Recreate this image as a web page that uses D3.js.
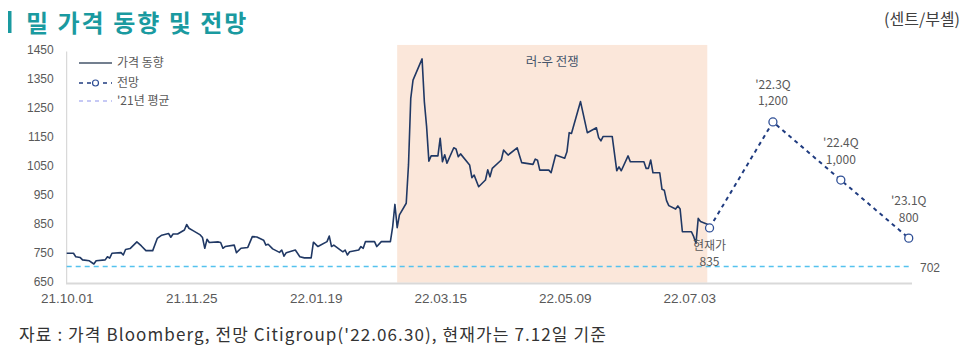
<!DOCTYPE html>
<html>
<head>
<meta charset="utf-8">
<script src="https://cdn.jsdelivr.net/npm/d3@7"></script>
<style>
  body { margin: 0; background: #fff; }
  svg text { font-family: "Liberation Sans", Arial, sans-serif; }
  .kr { font-family: "Noto Sans CJK KR", "Noto Sans", sans-serif; }
</style>
</head>
<body>
<div id="chart"></div>
<script>
// 밀 가격 (센트/부셸)
const priceDates = ["2021-10-01","2021-10-04","2021-10-05","2021-10-07","2021-10-08","2021-10-11","2021-10-13","2021-10-14","2021-10-18","2021-10-19","2021-10-20","2021-10-21","2021-10-25","2021-10-26","2021-10-27","2021-10-29",
  "2021-11-01","2021-11-03","2021-11-05","2021-11-08","2021-11-10","2021-11-12","2021-11-15","2021-11-16","2021-11-17","2021-11-19","2021-11-22","2021-11-23","2021-11-24","2021-11-26","2021-11-29","2021-11-30",
  "2021-12-01","2021-12-02","2021-12-03","2021-12-07","2021-12-08","2021-12-09","2021-12-10","2021-12-14","2021-12-15","2021-12-17","2021-12-20","2021-12-22","2021-12-24","2021-12-27","2021-12-28","2021-12-29","2021-12-31",
  "2022-01-03","2022-01-04","2022-01-05","2022-01-06","2022-01-10","2022-01-12","2022-01-14","2022-01-17","2022-01-18","2022-01-20","2022-01-24","2022-01-25","2022-01-26","2022-01-27","2022-01-31",
  "2022-02-01","2022-02-02","2022-02-03","2022-02-07","2022-02-08","2022-02-09","2022-02-10","2022-02-14","2022-02-15","2022-02-17","2022-02-21","2022-02-22","2022-02-23","2022-02-24","2022-02-25","2022-02-28",
  "2022-03-01","2022-03-02","2022-03-03","2022-03-07","2022-03-08","2022-03-09","2022-03-10","2022-03-11","2022-03-14","2022-03-15","2022-03-16","2022-03-17","2022-03-18","2022-03-21","2022-03-22","2022-03-23","2022-03-24","2022-03-28","2022-03-29","2022-03-30",
  "2022-04-01","2022-04-04","2022-04-05","2022-04-06","2022-04-07","2022-04-11","2022-04-12","2022-04-14","2022-04-18","2022-04-19","2022-04-20","2022-04-25","2022-04-26","2022-04-27","2022-04-28",
  "2022-05-02","2022-05-03","2022-05-05","2022-05-09","2022-05-10","2022-05-11","2022-05-12","2022-05-16","2022-05-19","2022-05-23","2022-05-24","2022-05-25","2022-05-26","2022-05-30",
  "2022-06-01","2022-06-02","2022-06-03","2022-06-06","2022-06-07","2022-06-13","2022-06-14","2022-06-15","2022-06-16","2022-06-17","2022-06-20","2022-06-21","2022-06-22","2022-06-23","2022-06-24","2022-06-27","2022-06-28","2022-06-29","2022-06-30",
  "2022-07-04","2022-07-05","2022-07-06","2022-07-07","2022-07-08","2022-07-11","2022-07-12"];
const priceValues = [748,748,736,733,725,722,711,722,725,736,731,748,750,742,761,764,
  787,773,757,757,799,810,816,803,814,814,828,847,834,825,811,802,
  765,796,785,787,785,765,771,776,750,765,768,805,804,793,776,779,763,
  751,759,738,750,759,736,732,732,786,771,788,807,771,776,753,
  759,742,753,759,771,765,788,788,771,788,788,839,916,836,880,920,
  1052,1281,1344,1417,1270,1184,1065,1083,1083,1144,1063,1087,1058,1111,1107,1080,1090,1052,1008,1017,
  977,1000,1035,1011,1040,1069,1103,1086,1111,1085,1060,1054,1072,1068,1034,
  1034,1025,1086,1075,1097,1163,1160,1270,1163,1180,1146,1135,1150,1150,
  1032,1045,1032,1083,1063,1063,1040,1040,1069,1025,1025,968,965,929,912,900,911,900,822,
  822,805,782,868,857,848,835];

// 전망 (Citigroup)
const fcDates = ["2022-07-12","2022-08-09","2022-09-08","2022-10-08"];
const fcValues = [835,1200,1000,800];
const fcNames = ["현재가","'22.3Q","'22.4Q","'23.1Q"];

const avg2021 = 702;
const warPeriod = ["2022-02-24","2022-07-11"];
const xTicks = ["2021-10-01","2021-11-25","2022-01-19","2022-03-15","2022-05-09","2022-07-03"];
const yTicks = [650,750,850,950,1050,1150,1250,1350,1450];

const W = 966, H = 351;
const parse = d3.timeParse("%Y-%m-%d");
const price = priceDates.map((d, i) => ({date: parse(d), value: priceValues[i]}));
const forecast = fcDates.map((d, i) => ({date: parse(d), value: fcValues[i], name: fcNames[i]}));

const svg = d3.select("#chart").append("svg")
    .attr("width", W)
    .attr("height", H);

const x = d3.scaleTime()
    .domain([parse("2021-10-01"), parse("2022-10-09")])
    .range([66.7, 911]);
const y = d3.scaleLinear()
    .domain([650, 1450])
    .range([281.7, 49.3]);

// 러-우 전쟁 음영
svg.append("rect")
    .attr("x", x(parse(warPeriod[0])))
    .attr("y", y(1465))
    .attr("width", x(parse(warPeriod[1])) - x(parse(warPeriod[0])))
    .attr("height", y(650) - y(1465) + 1)
    .style("fill", "#fbe7da");
svg.append("text").attr("class", "kr")
    .attr("x", (x(parse(warPeriod[0])) + x(parse(warPeriod[1]))) / 2)
    .attr("y", 66)
    .attr("text-anchor", "middle")
    .style("font-size", "12.5px")
    .style("fill", "#44546a")
    .text("러-우 전쟁");

// 축
const yAxis = svg.append("g")
    .attr("transform", "translate(66.7,0)")
    .call(d3.axisLeft(y).tickValues(yTicks).tickSize(0).tickPadding(13).tickFormat(d3.format("d")));
yAxis.select(".domain").remove();
yAxis.selectAll("text").style("font-size", "12px").style("fill", "#595959");
svg.append("line")
    .attr("x1", 66.7).attr("x2", 66.7)
    .attr("y1", 51.5).attr("y2", 283)
    .style("stroke", "#d0d0d0").style("stroke-width", 1);

const xAxis = svg.append("g")
    .attr("transform", "translate(0,283)")
    .call(d3.axisBottom(x).tickValues(xTicks.map(parse)).tickSize(0).tickPadding(10)
        .tickFormat(d3.timeFormat("%y.%m.%d")));
xAxis.select(".domain").remove();
xAxis.selectAll("text")
    .style("font-family", "'Liberation Sans Narrow', 'Arial Narrow', sans-serif")
    .style("font-size", "13.5px").style("fill", "#595959");
svg.append("line")
    .attr("x1", 66).attr("x2", 912)
    .attr("y1", 283.5).attr("y2", 283.5)
    .style("stroke", "#d9d9d9").style("stroke-width", 2);

// '21년 평균
svg.append("line")
    .attr("x1", 66.7).attr("x2", x(parse("2022-10-08")))
    .attr("y1", y(avg2021)).attr("y2", y(avg2021))
    .style("stroke", "#55c2ee").style("stroke-width", 1.5)
    .style("stroke-dasharray", "5,4");
svg.append("text")
    .attr("x", 920).attr("y", y(avg2021) + 5)
    .style("font-size", "12px").style("fill", "#595959")
    .text(avg2021);

// 가격 동향
const line = d3.line().x(d => x(d.date)).y(d => y(d.value));
svg.append("path")
    .datum(price)
    .attr("d", line)
    .style("fill", "none")
    .style("stroke", "#203864")
    .style("stroke-width", 1.6)
    .style("stroke-linejoin", "round");

// 전망
svg.append("path")
    .datum(forecast)
    .attr("d", line)
    .style("fill", "none")
    .style("stroke", "#203c80")
    .style("stroke-width", 2)
    .style("stroke-dasharray", "4,4");
svg.selectAll(".fc").data(forecast).enter().append("circle")
    .attr("class", "fc")
    .attr("cx", d => x(d.date))
    .attr("cy", d => y(d.value))
    .attr("r", 4)
    .style("fill", "#fff")
    .style("stroke", "#2f4f96")
    .style("stroke-width", 1.3);

// 라벨
const fmt = d3.format(",");
forecast.forEach((d, i) => {
    const cx = x(d.date), cy = y(d.value);
    const top = i === 0 ? cy + 22 : cy - 33;
    svg.append("text").attr("class", "kr")
        .attr("x", cx).attr("y", top)
        .attr("text-anchor", "middle")
        .style("font-size", "12px").style("fill", "#595959")
        .text(d.name);
    svg.append("text").attr("class", "kr")
        .attr("x", cx).attr("y", top + 16.5)
        .attr("text-anchor", "middle")
        .style("font-size", "12px").style("fill", "#595959")
        .text(fmt(d.value));
});

// 범례
const legend = svg.append("g").attr("transform", "translate(79,0)");
legend.append("line").attr("x1", 0).attr("x2", 33).attr("y1", 63).attr("y2", 63)
    .style("stroke", "#44546a").style("stroke-width", 1.6);
legend.append("line").attr("x1", 0).attr("x2", 33).attr("y1", 83).attr("y2", 83)
    .style("stroke", "#203c80").style("stroke-width", 1.5).style("stroke-dasharray", "4,4");
legend.append("circle").attr("cx", 16.5).attr("cy", 83).attr("r", 3)
    .style("fill", "#fff").style("stroke", "#2f4f96").style("stroke-width", 1.2);
legend.append("line").attr("x1", 0).attr("x2", 33).attr("y1", 101).attr("y2", 101)
    .style("stroke", "#b4b8f2").style("stroke-width", 1.5).style("stroke-dasharray", "4,4");
["가격 동향", "전망", "'21년 평균"].forEach((t, i) => {
    legend.append("text").attr("class", "kr")
        .attr("x", 38).attr("y", [67, 87, 105][i])
        .style("font-size", "12px").style("fill", "#595959")
        .text(t);
});

// 제목
svg.append("rect").attr("x", 8).attr("y", 11).attr("width", 3.5).attr("height", 22)
    .style("fill", "#1a9aa0");
svg.append("text").attr("class", "kr")
    .attr("x", 26).attr("y", 32)
    .style("font-size", "24px").style("font-weight", "bold")
    .style("letter-spacing", "2px")
    .style("fill", "#1a9aa0")
    .text("밀 가격 동향 및 전망");
svg.append("text").attr("class", "kr")
    .attr("x", 960).attr("y", 25)
    .attr("text-anchor", "end")
    .style("font-size", "16px").style("fill", "#404040")
    .text("(센트/부셸)");

// 출처
svg.append("text").attr("class", "kr")
    .attr("x", 19).attr("y", 341)
    .style("font-size", "17px").style("fill", "#333")
    .style("letter-spacing", "1.1px")
    .text("자료 : 가격 Bloomberg, 전망 Citigroup('22.06.30), 현재가는 7.12일 기준");
</script>
</body>
</html>
